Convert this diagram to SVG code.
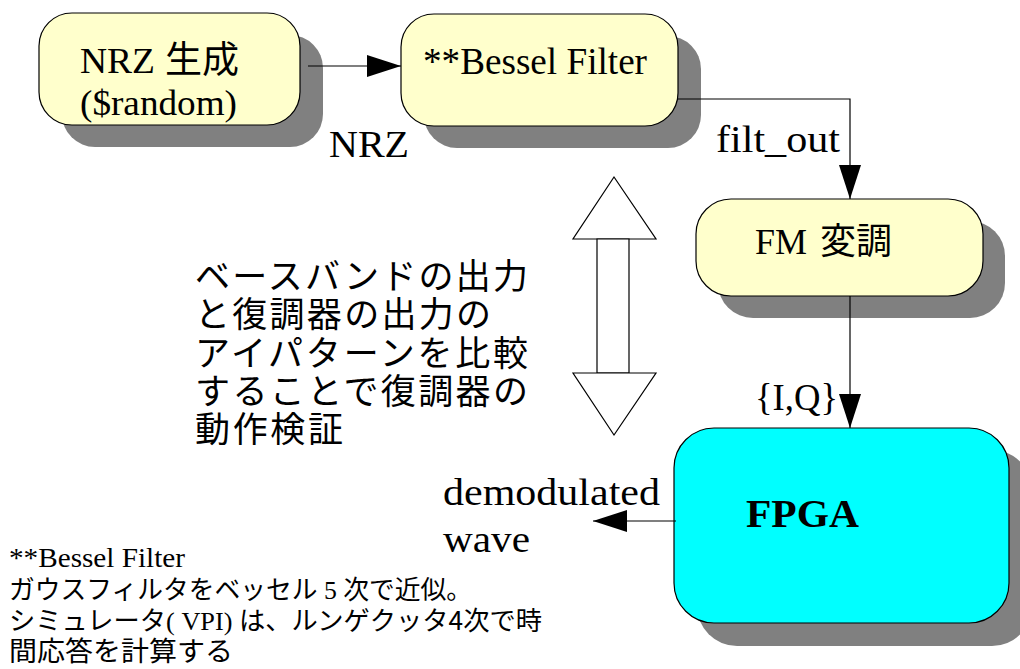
<svg xmlns="http://www.w3.org/2000/svg" width="1020" height="669" viewBox="0 0 1020 669">
  <style>
    .shadow { fill: #808080; stroke: none; }
    .box { fill: #ffffcc; stroke: #000; stroke-width: 1.2; }
    .fpga { fill: #00ffff; stroke: #000; stroke-width: 1.2; }
    .serif { font-family: "Liberation Serif", "Noto Sans CJK JP", serif; fill: #000; }
    .jp { font-family: "Noto Sans CJK JP", "Liberation Sans", sans-serif; fill: #000; }
    .wire { fill: none; stroke: #000; stroke-width: 1.2; marker-end: url(#head); }
    .hollow { fill: #fff; stroke: #000; stroke-width: 1.2; }
  </style>
  <defs>
    <marker id="head" markerUnits="userSpaceOnUse" markerWidth="36" markerHeight="24" refX="34" refY="11" orient="auto">
      <path d="M0,0 L34,11 L0,22 z" fill="#000"/>
    </marker>
  </defs>

  <rect width="1020" height="669" fill="#fff"/>

  <!-- NRZ generator -->
  <g id="nrz">
    <rect class="shadow" x="62" y="35" width="261" height="112" rx="33"/>
    <rect class="box" x="39" y="13" width="261" height="112" rx="33"/>
    <text class="serif" font-size="36" y="73"><tspan x="80" textLength="75" lengthAdjust="spacingAndGlyphs">NRZ</tspan><tspan x="165" class="jp" font-size="37">生成</tspan></text>
    <text class="serif" font-size="36" x="80" y="115" textLength="157" lengthAdjust="spacingAndGlyphs">($random)</text>
  </g>

  <!-- Bessel filter -->
  <g id="bessel">
    <rect class="shadow" x="424" y="36" width="277" height="112" rx="33"/>
    <rect class="box" x="401" y="14" width="277" height="112" rx="33"/>
    <text class="serif" font-size="37" x="423" y="74" textLength="224" lengthAdjust="spacingAndGlyphs">**Bessel Filter</text>
  </g>

  <!-- FM modulator -->
  <g id="fm">
    <rect class="shadow" x="718" y="221" width="287" height="97" rx="35"/>
    <rect class="box" x="696" y="199" width="287" height="97" rx="35"/>
    <text class="serif" font-size="36" y="254"><tspan x="755" textLength="52" lengthAdjust="spacingAndGlyphs">FM</tspan><tspan x="820" class="jp" font-size="36">変調</tspan></text>
  </g>

  <!-- FPGA -->
  <g id="fpga">
    <rect class="shadow" x="697" y="450" width="335" height="196" rx="40"/>
    <rect class="fpga" x="674" y="428" width="335" height="195" rx="40"/>
    <text class="serif" font-size="40" font-weight="bold" x="746" y="527" textLength="113" lengthAdjust="spacingAndGlyphs">FPGA</text>
  </g>

  <!-- comparison double arrow -->
  <g id="compare">
    <path class="hollow" d="M614,177 L656,239 L573,239 z"/>
    <path class="hollow" d="M597,239 H629 V373 H597 z"/>
    <path class="hollow" d="M573,373 L656,373 L614,435 z"/>
  </g>

  <!-- connectors -->
  <g id="connectors">
    <path class="wire" d="M308,66 H401"/>
    <path class="wire" d="M678,99 H850 V199"/>
    <path class="wire" d="M850,296 V428"/>
    <path class="wire" d="M676,521 H593"/>
  </g>

  <!-- connector labels -->
  <g id="labels">
    <text class="serif" font-size="37" x="329" y="157" textLength="80" lengthAdjust="spacingAndGlyphs">NRZ</text>
    <text class="serif" font-size="38" x="716" y="152" textLength="124" lengthAdjust="spacingAndGlyphs">filt_out</text>
    <text class="serif" font-size="37" x="755" y="410" textLength="83" lengthAdjust="spacingAndGlyphs">{I,Q}</text>
    <text class="serif" font-size="38" x="443" y="505" textLength="217" lengthAdjust="spacingAndGlyphs">demodulated</text>
    <text class="serif" font-size="38" x="443" y="552" textLength="87" lengthAdjust="spacingAndGlyphs">wave</text>
  </g>

  <!-- explanation text -->
  <g id="note-compare" class="jp" font-size="35">
    <text x="195" y="289" textLength="333" lengthAdjust="spacing">ベースバンドの出力</text>
    <text x="195" y="327" textLength="296" lengthAdjust="spacing">と復調器の出力の</text>
    <text x="195" y="366" textLength="333" lengthAdjust="spacing">アイパターンを比較</text>
    <text x="195" y="404" textLength="333" lengthAdjust="spacing">することで復調器の</text>
    <text x="195" y="442" textLength="148" lengthAdjust="spacing">動作検証</text>
  </g>

  <g id="note-bessel">
    <text class="serif" font-size="28" x="9" y="567" textLength="176" lengthAdjust="spacingAndGlyphs">**Bessel Filter</text>
    <text class="jp" font-size="26" x="9" y="599" textLength="463" lengthAdjust="spacingAndGlyphs">ガウスフィルタをベッセル<tspan class="serif"> 5 </tspan>次で近似。</text>
    <text class="jp" font-size="26" x="9" y="630" textLength="533" lengthAdjust="spacingAndGlyphs">シミュレータ<tspan class="serif">( VPI) </tspan>は、ルンゲクッタ4次で時</text>
    <text class="jp" font-size="27" x="9" y="661" textLength="224" lengthAdjust="spacingAndGlyphs">間応答を計算する</text>
  </g>
</svg>
